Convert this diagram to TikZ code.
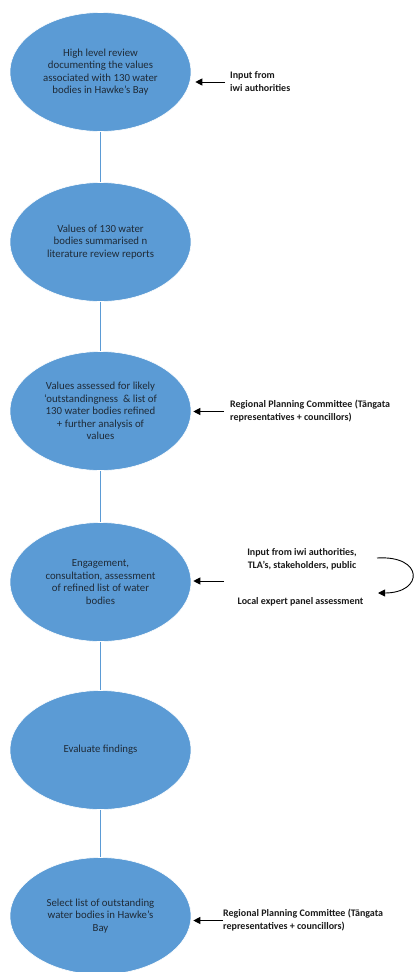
\documentclass[tikz,border=0pt]{standalone}
\usepackage{fontspec}
\setmainfont{Carlito}
\usetikzlibrary{shapes.geometric,arrows.meta}
\definecolor{ellfill}{HTML}{5B9BD5}
\definecolor{elltext}{HTML}{1F2B38}
\definecolor{lbltext}{HTML}{1A1A1A}
\begin{document}
\begin{tikzpicture}[x=1pt,y=-1pt,
  stage/.style={ellipse, fill=ellfill, draw=white, line width=0.6pt,
    minimum width=181pt, minimum height=119pt, inner sep=0pt,
    align=center, text=elltext, font=\fontsize{10.8}{12.4}\selectfont},
  lbl/.style={inner sep=0pt, text=lbltext, font=\bfseries\fontsize{10}{13}\selectfont},
  link/.style={draw=ellfill, line width=1pt},
  arr/.style={-{Triangle[length=7pt,width=7pt]}, line width=1pt, draw=black}]
\useasboundingbox (0,0) rectangle (416,972);

% stages
\node[stage] (e1) at (100.5,72) {High level review\\documenting the values\\associated with 130 water\\bodies in Hawke’s Bay};
\node[stage] (e2) at (100.5,242) {Values of 130 water\\bodies summarised n\\literature review reports};
\node[stage] (e3) at (100.5,411) {Values assessed for likely\\‘outstandingness\ \ \& list of\\130 water bodies refined\\+ further analysis of\\values};
\node[stage] (e4) at (100.5,582) {Engagement,\\consultation, assessment\\of refined list of water\\bodies};
\node[stage] (e5) at (100.5,750) {Evaluate findings};
\node[stage, minimum height=117pt] (e6) at (100.5,916) {Select list of outstanding\\water bodies in Hawke’s\\Bay};

% connectors between stages
\draw[link] (e1.south) -- (e2.north);
\draw[link] (e2.south) -- (e3.north);
\draw[link] (e3.south) -- (e4.north);
\draw[link] (e4.south) -- (e5.north);
\draw[link] (e5.south) -- (e6.north);

% side inputs
\node[lbl, anchor=west, align=left] (l1) at (230,82) {Input from\\iwi authorities};
\node[lbl, anchor=west, align=left] (l3) at (230,411.5) {Regional Planning Committee (Tāngata\\representatives + councillors)};
\node[lbl, align=center] (l4a) at (302,559) {Input from iwi authorities,\\TLA’s, stakeholders, public};
\node[lbl] (l4b) at (300.5,602) {Local expert panel assessment};
\node[lbl, anchor=west, align=left] (l6) at (223,920.5) {Regional Planning Committee (Tāngata\\representatives + councillors)};

\draw[arr, shorten <=5pt, shorten >=4pt] (l1.west) -- (l1.west -| e1.east);
\draw[arr, shorten <=6pt, shorten >=2pt] (l3.west) -- (l3.west -| e3.east);
\coordinate (a4) at (224,581);
\draw[arr, shorten >=2pt] (a4) -- (a4 -| e4.east);
\draw[arr, shorten <=0.5pt, shorten >=2pt] (l6.west) -- (l6.west -| e6.east);

% curved arrow
\coordinate (c1) at (377,558);
\coordinate (c2) at (378,593);
\draw[arr, line width=0.9pt] (c1) .. controls (424,555) and (424,593) .. (c2);
\end{tikzpicture}
\end{document}
